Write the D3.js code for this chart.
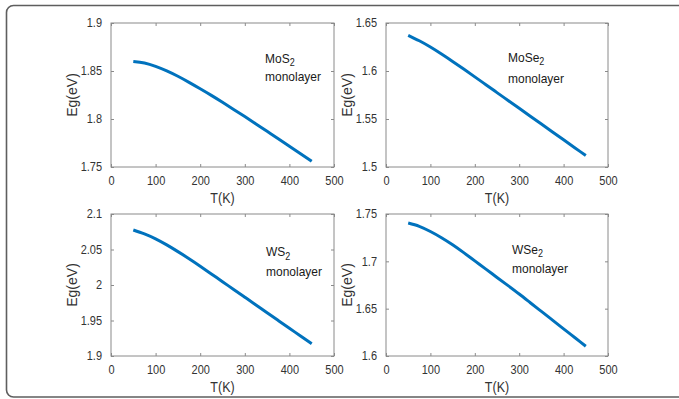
<!DOCTYPE html>
<html>
<head>
<meta charset="utf-8">
<script src="https://cdn.jsdelivr.net/npm/d3@7"></script>
<style>
  html, body { margin: 0; padding: 0; background: #fff; }
  svg { display: block; font-family: "Liberation Sans", Arial, Helvetica, sans-serif; }
</style>
</head>
<body>
<script>
// ---------- data ----------
const temps = [50, 75, 100, 125, 150, 175, 200, 225, 250, 275, 300, 325, 350, 375, 400, 425, 450];
const mos2  = [1.8600, 1.8583, 1.8548, 1.8501, 1.8445, 1.8382, 1.8315, 1.8246, 1.8174, 1.8100, 1.8025, 1.7949, 1.7872, 1.7795, 1.7717, 1.7639, 1.7560];
const mose2 = [1.6372, 1.6315, 1.6250, 1.6177, 1.6100, 1.6020, 1.5939, 1.5857, 1.5775, 1.5693, 1.5611, 1.5529, 1.5447, 1.5365, 1.5283, 1.5201, 1.5119];
const ws2   = [2.0775, 2.0720, 2.0650, 2.0565, 2.0470, 2.0370, 2.0265, 2.0156, 2.0047, 1.9937, 1.9828, 1.9719, 1.9609, 1.9500, 1.9391, 1.9281, 1.9172];
const wse2  = [1.7405, 1.7370, 1.7315, 1.7250, 1.7175, 1.7092, 1.7005, 1.6918, 1.6830, 1.6743, 1.6655, 1.6563, 1.6471, 1.6379, 1.6287, 1.6195, 1.6103];

const xTicks = [0, 100, 200, 300, 400, 500];
const mos2Ticks  = [1.75, 1.8, 1.85, 1.9];
const mose2Ticks = [1.5, 1.55, 1.6, 1.65];
const ws2Ticks   = [1.9, 1.95, 2, 2.05, 2.1];
const wse2Ticks  = [1.6, 1.65, 1.7, 1.75];

const materials = ["MoS", "MoSe", "WS", "WSe"];
const subscript = "2";
const subtitle = "monolayer";
const xLabel = "T(K)";
const yLabel = "Eg(eV)";

// ---------- layout ----------
const W = 679, H = 399;
const SY = 1.12; // vertical stretch of the reference's text
const panels = [
  { box: [111, 334, 23, 167],  vals: mos2,  ticks: mos2Ticks,  name: materials[0], ann: [265, 62.5, 81] },
  { box: [386, 608, 23, 167],  vals: mose2, ticks: mose2Ticks, name: materials[1], ann: [508, 61.5, 82.5] },
  { box: [111, 334, 214, 356], vals: ws2,   ticks: ws2Ticks,   name: materials[2], ann: [266, 256, 276] },
  { box: [386, 608, 214, 356], vals: wse2,  ticks: wse2Ticks,  name: materials[3], ann: [512, 253.5, 273] }
];

const svg = d3.select("body").append("svg").attr("width", W).attr("height", H);
svg.append("rect").attr("width", W).attr("height", H).attr("fill", "#fff");

// outer rounded frame
svg.append("rect")
  .attr("x", 6.5).attr("y", 5.5).attr("width", 720).attr("height", 391.5)
  .attr("rx", 7).attr("ry", 7)
  .attr("fill", "none").attr("stroke", "#5e5e5e").attr("stroke-width", 1.6);

const axisColor = "#8a8a8a";
const textColor = "#333333";
const lineColor = "#0072BD";

panels.forEach(p => {
  const [x0, x1, y0, y1] = p.box;
  const x = d3.scaleLinear().domain([0, 500]).range([x0, x1]);
  const ticks = p.ticks;
  const y = d3.scaleLinear().domain([ticks[0], ticks[ticks.length - 1]]).range([y1, y0]);
  const fmt = d => String(+d.toFixed(2));

  const g = svg.append("g");

  const styleAxis = (sel, showText) => {
    sel.select(".domain").remove();
    sel.selectAll(".tick line").attr("stroke", axisColor).attr("stroke-width", 1);
    sel.selectAll(".tick text")
      .attr("fill", textColor)
      .attr("transform", `scale(1,${SY})`)
      .style("font-size", "11px")
      .style("display", showText ? null : "none");
  };

  g.append("g").attr("transform", `translate(0,${y1})`)
    .call(d3.axisBottom(x).tickValues(xTicks).tickFormat(fmt).tickSizeInner(-3).tickSizeOuter(0).tickPadding(8.5))
    .call(s => styleAxis(s, true));
  g.append("g").attr("transform", `translate(0,${y0})`)
    .call(d3.axisTop(x).tickValues(xTicks).tickSizeInner(-3).tickSizeOuter(0))
    .call(s => styleAxis(s, false));
  g.append("g").attr("transform", `translate(${x0},0)`)
    .call(d3.axisLeft(y).tickValues(ticks).tickFormat(fmt).tickSizeInner(-3).tickSizeOuter(0).tickPadding(9))
    .call(s => styleAxis(s, true));
  g.append("g").attr("transform", `translate(${x1},0)`)
    .call(d3.axisRight(y).tickValues(ticks).tickSizeInner(-3).tickSizeOuter(0))
    .call(s => styleAxis(s, false));

  g.append("rect")
    .attr("x", x0).attr("y", y0).attr("width", x1 - x0).attr("height", y1 - y0)
    .attr("fill", "none").attr("stroke", axisColor).attr("stroke-width", 1);

  const line = d3.line()
    .x((d, i) => x(temps[i]))
    .y(d => y(d))
    .curve(d3.curveNatural);
  g.append("path")
    .attr("d", line(p.vals))
    .attr("fill", "none")
    .attr("stroke", lineColor)
    .attr("stroke-width", 3)
    .attr("stroke-linecap", "butt")
    .attr("stroke-linejoin", "round");

  g.append("text")
    .attr("transform", `translate(${(x0 + x1) / 2},${y1 + 36}) scale(1,${SY})`)
    .attr("text-anchor", "middle")
    .attr("fill", textColor)
    .style("font-size", "12.5px")
    .text(xLabel);
  g.append("text")
    .attr("transform", `translate(${x0 - 34},${(y0 + y1) / 2}) rotate(-90)`)
    .attr("text-anchor", "middle")
    .attr("fill", textColor)
    .style("font-size", "14px")
    .text(yLabel);

  const [ax, ay1, ay2] = p.ann;
  const t1 = g.append("text")
    .attr("transform", `translate(${ax},${ay1}) scale(1,${SY})`)
    .attr("fill", "#1a1a1a").style("font-size", "12px");
  t1.append("tspan").text(p.name);
  t1.append("tspan").attr("dy", 3.5).style("font-size", "9px").text(subscript);
  g.append("text")
    .attr("transform", `translate(${ax},${ay2}) scale(1,${SY})`)
    .attr("fill", "#1a1a1a").style("font-size", "12px").text(subtitle);
});
</script>
</body>
</html>
